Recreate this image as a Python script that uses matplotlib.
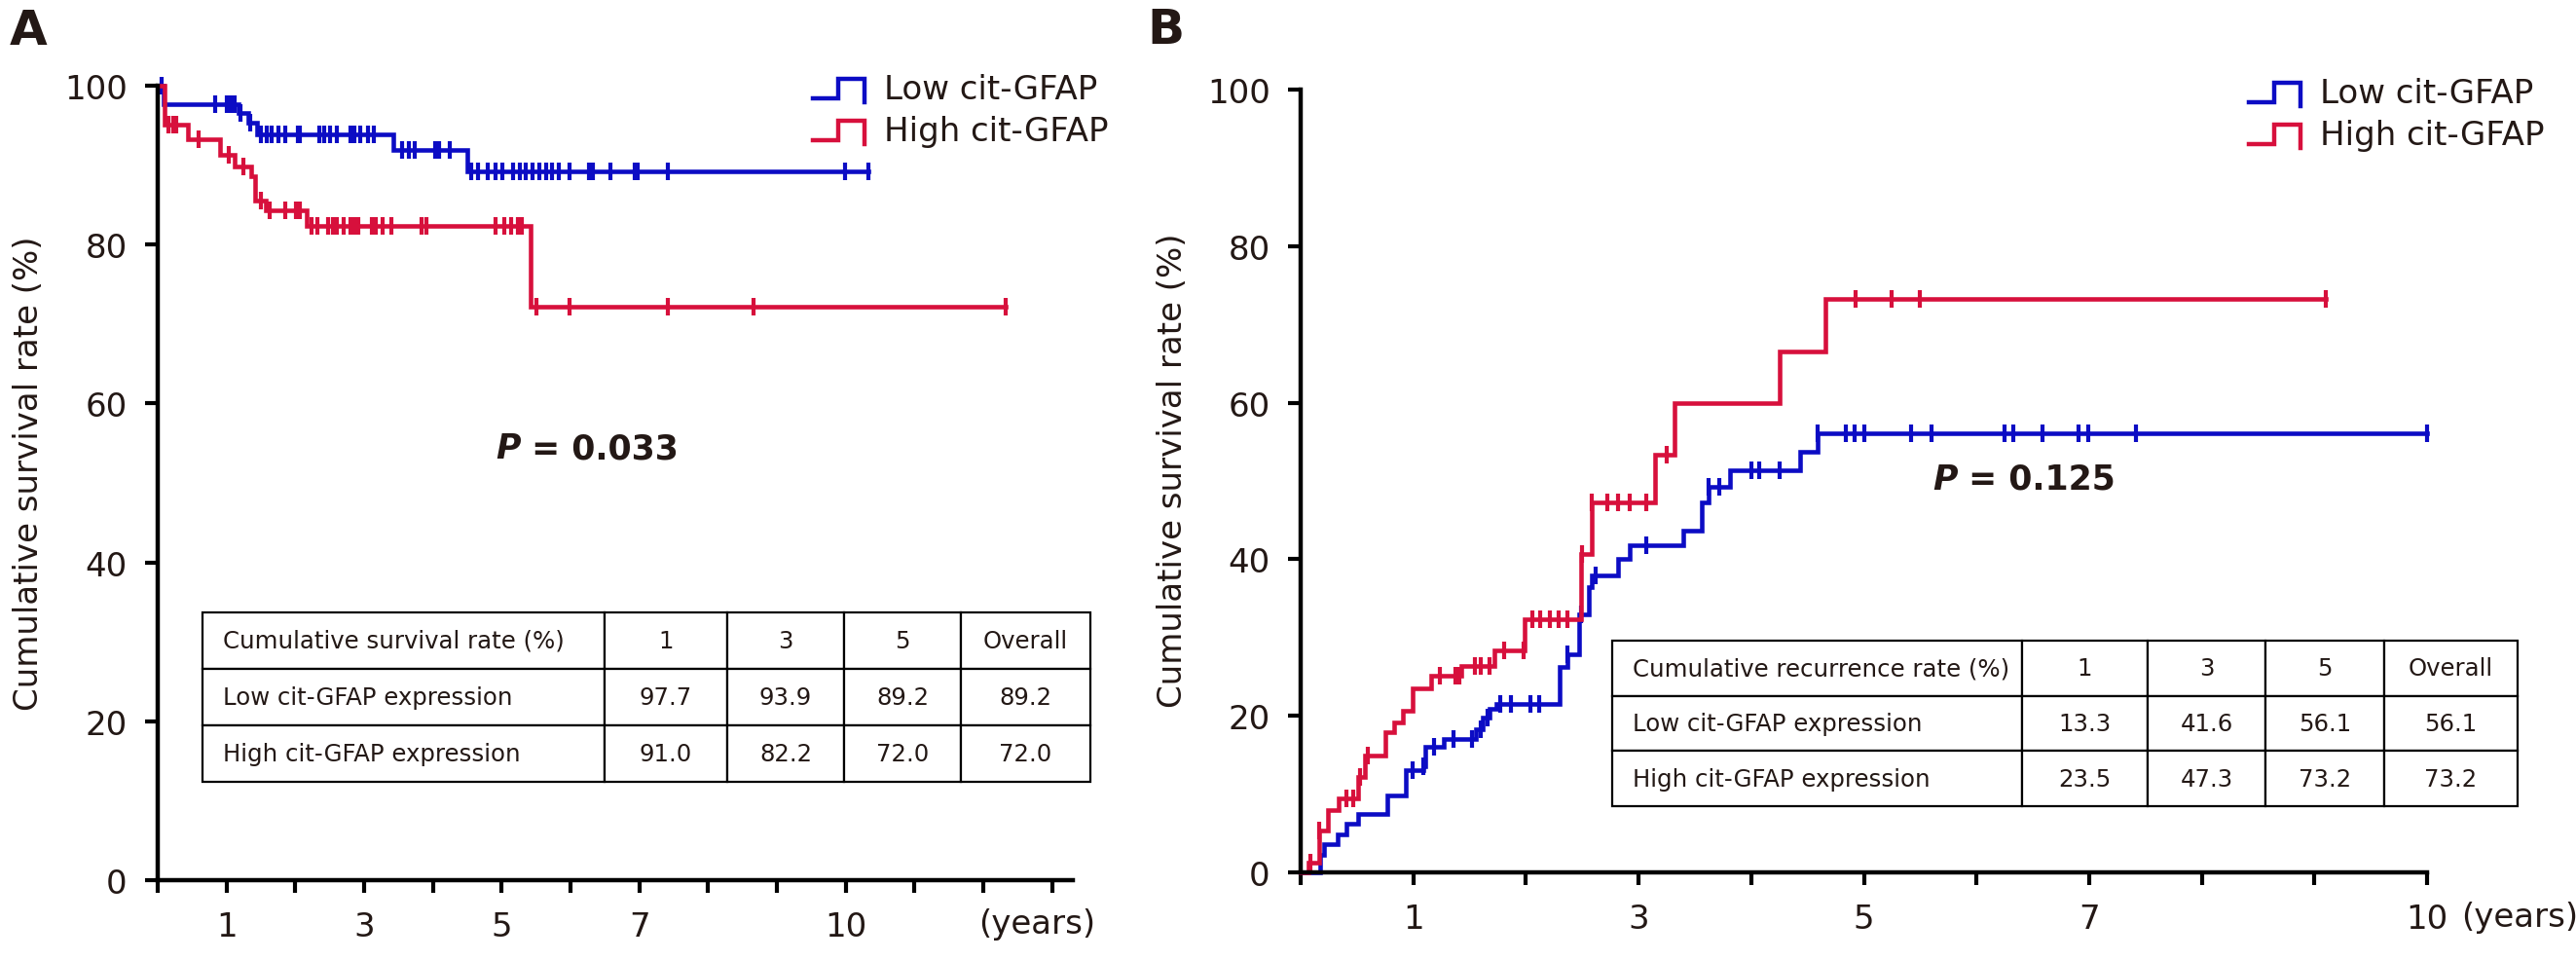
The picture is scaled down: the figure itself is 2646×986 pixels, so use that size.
import numpy as np
import matplotlib
matplotlib.use("Agg")
import matplotlib.pyplot as plt
from matplotlib.lines import Line2D
from matplotlib.legend_handler import HandlerBase

plt.rcParams['font.family'] = ['DejaVu Sans']

# ---- data ----
# panel A: overall survival (step times in years, survival %)
a_low_t = [0, 0.08, 1.17, 1.31, 1.44, 3.43, 4.50, 10.33]
a_low_s = [100, 97.7, 96.6, 95.3, 93.9, 91.9, 89.2, 89.2]
a_low_cens = [0.05, 0.84, 1.0, 1.06, 1.12, 1.2, 1.35, 1.50, 1.58, 1.66, 1.76, 1.85,
              2.04, 2.07, 2.35, 2.42, 2.51, 2.61, 2.80, 2.86, 2.95, 3.05, 3.14,
              3.55, 3.65, 3.74, 4.03, 4.09, 4.25, 4.56, 4.66, 4.79, 4.91, 5.01,
              5.16, 5.26, 5.35, 5.45, 5.54, 5.64, 5.73, 5.83, 5.98, 6.27, 6.33,
              6.58, 6.93, 6.98, 7.41, 9.99, 10.33]

a_high_t = [0, 0.10, 0.44, 0.90, 1.12, 1.36, 1.41, 1.57, 2.17, 5.42, 12.32]
a_high_s = [100, 95.1, 93.3, 91.3, 89.8, 88.6, 85.6, 84.3, 82.3, 72.2, 72.2]
a_high_cens = [0.15, 0.23, 0.27, 0.59, 1.03, 1.25, 1.50, 1.63, 1.85, 2.01, 2.07,
               2.23, 2.32, 2.48, 2.54, 2.61, 2.70, 2.80, 2.86, 2.92, 3.11, 3.17,
               3.27, 3.40, 3.84, 3.90, 4.91, 5.04, 5.13, 5.23, 5.29, 5.51, 5.98,
               7.41, 8.66, 12.32]

# panel B: cumulative recurrence
b_low_t = [0, 0.17, 0.21, 0.33, 0.41, 0.51, 0.77, 0.93, 1.09, 1.11, 1.27, 1.56,
           1.62, 1.68, 1.74, 2.30, 2.37, 2.47, 2.56, 2.58, 2.82, 2.92, 3.40, 3.56,
           3.62, 3.81, 4.43, 4.59, 10.0]
b_low_s = [0, 2.3, 3.6, 4.9, 6.2, 7.5, 9.8, 13.0, 13.6, 16.0, 17.0, 18.3, 19.8,
           20.9, 21.5, 26.2, 27.9, 33.0, 36.4, 37.9, 40.0, 41.8, 43.7, 47.3, 49.2,
           51.4, 53.7, 56.1, 56.1]
b_low_cens = [0.99, 1.09, 1.18, 1.36, 1.52, 1.60, 1.66, 1.77, 1.87, 2.04, 2.12,
              2.37, 2.49, 2.62, 3.07, 3.62, 3.72, 4.00, 4.07, 4.25, 4.59, 4.84,
              4.92, 5.00, 5.42, 5.60, 6.25, 6.33, 6.59, 6.91, 6.99, 7.42, 10.0]

b_high_t = [0, 0.07, 0.16, 0.24, 0.34, 0.51, 0.57, 0.75, 0.83, 0.91, 0.99, 1.16,
            1.43, 1.72, 1.99, 2.49, 2.58, 3.15, 3.32, 4.25, 4.66, 9.10]
b_high_s = [0, 1.3, 5.3, 7.9, 9.4, 12.2, 14.9, 17.9, 19.2, 20.7, 23.5, 25.1, 26.4,
            28.4, 32.4, 40.7, 47.3, 53.4, 60.0, 66.5, 73.2, 73.2]
b_high_cens = [0.09, 0.16, 0.41, 0.47, 0.53, 0.60, 1.24, 1.37, 1.41, 1.55, 1.60,
               1.68, 1.81, 1.98, 2.06, 2.13, 2.21, 2.29, 2.37, 2.50, 2.58, 2.72,
               2.82, 2.92, 3.07, 3.25, 4.93, 5.25, 5.50, 9.10]

group_labels = ["Low cit-GFAP", "High cit-GFAP"]
row_labels = ["Low cit-GFAP expression", "High cit-GFAP expression"]
col_labels = ["1", "3", "5", "Overall"]
a_table_low = ["97.7", "93.9", "89.2", "89.2"]
a_table_high = ["91.0", "82.2", "72.0", "72.0"]
b_table_low = ["13.3", "41.6", "56.1", "56.1"]
b_table_high = ["23.5", "47.3", "73.2", "73.2"]

xtick_labels = {1: "1", 3: "3", 5: "5", 7: "7", 10: "10"}

BLUE = "#0c0cc4"
RED = "#d7103c"
INK = "#231815"
FS = 24.5

W, H = 2646, 987
fig = plt.figure(figsize=(W / 100, H / 100), dpi=100)


def fx(px):
    return px / W


def fy(py):
    return 1 - py / H


def rect(x0, y0, x1, y1):
    # pixel box (top-left origin) -> figure fraction rect
    return [fx(x0), fy(y1), fx(x1) - fx(x0), fy(y0) - fy(y1)]


class StepHandler(HandlerBase):
    def create_artists(self, legend, orig_handle, xdescent, ydescent,
                       width, height, fontsize, trans):
        xs = np.array([0, 0.5, 0.5, 1.0, 1.0]) * width - xdescent
        ys = np.array([0.0, 0.0, 0.85, 0.85, -0.15]) * height - ydescent
        ln = Line2D(xs, ys, color=orig_handle.get_color(), lw=3.2,
                    solid_joinstyle='miter', transform=trans)
        return [ln]


def step_value(t, s, c):
    idx = np.searchsorted(np.array(t), np.array(c), side='right') - 1
    return np.array(s)[np.clip(idx, 0, len(s) - 1)]


def draw_curve(ax, t, s, cens, color):
    ln, = ax.step(t, s, where='post', color=color, lw=3.3, clip_on=False,
                  solid_joinstyle='miter')
    ax.plot(cens, step_value(t, s, cens), ls='none', marker='|', ms=13,
            mew=3.0, color=color, clip_on=False)
    return ln


def style_axis(ax, xmax, xticks):
    ax.set_xlim(0, xmax)
    ax.set_ylim(0, 100)
    for side in ['top', 'right']:
        ax.spines[side].set_visible(False)
    for side in ['left', 'bottom']:
        ax.spines[side].set_linewidth(3.2)
        ax.spines[side].set_color('black')
    ax.set_xticks(xticks)
    ax.set_xticklabels([xtick_labels.get(k, "") for k in xticks])
    ax.set_yticks(range(0, 101, 20))
    ax.tick_params(axis='both', direction='out', length=9.5, width=3.0,
                   labelsize=FS, colors='black', labelcolor=INK)
    ax.tick_params(axis='x', pad=13)
    ax.tick_params(axis='y', pad=13)
    ax.set_ylabel("Cumulative survival rate (%)", fontsize=FS, color=INK)


def draw_table(box, widths, header, rows):
    tax = fig.add_axes(rect(*box))
    tax.axis('off')
    cells = [header] + rows
    tot = float(sum(widths))
    tb = tax.table(cellText=cells, colWidths=[w / tot for w in widths],
                   cellLoc='center', bbox=[0, 0, 1, 1])
    tb.auto_set_font_size(False)
    tb.set_fontsize(17.6)
    for (r, c), cell in tb.get_celld().items():
        cell.set_linewidth(1.6)
        cell.set_edgecolor('black')
        cell.get_text().set_color(INK)
        if c == 0:
            cell.get_text().set_horizontalalignment('left')
            cell.PAD = 0.05
    return tb


def p_value(x, y, value):
    p = fig.text(fx(x), fy(y), "P", fontsize=25, fontweight='bold',
                 fontstyle='italic', color=INK, ha='left', va='center')
    ann = plt.annotate(" = " + value, xy=(1, 0), xycoords=p, va='bottom',
                       ha='left', fontsize=25, fontweight='bold', color=INK,
                       annotation_clip=False)
    return ann


def add_legend(ax, handles, x, y):
    ax.legend(handles, group_labels, handler_map={Line2D: StepHandler()},
              loc='upper left', bbox_to_anchor=(fx(x), fy(y)),
              bbox_transform=fig.transFigure, frameon=False, fontsize=FS,
              handlelength=1.55, handletextpad=0.6, labelspacing=0.3,
              borderpad=0, borderaxespad=0, labelcolor=INK)


# ---- panel A ----
ax_a = fig.add_axes(rect(162, 89, 1102, 905))
style_axis(ax_a, 13.3, list(range(0, 14)))
ax_a.yaxis.set_label_coords((46 - 162) / 940.0, 0.513)
la = draw_curve(ax_a, a_low_t, a_low_s, a_low_cens, BLUE)
ha = draw_curve(ax_a, a_high_t, a_high_s, a_high_cens, RED)
add_legend(ax_a, [la, ha], 835, 76)

# ---- panel B ----
ax_b = fig.add_axes(rect(1336, 93, 2493, 897))
style_axis(ax_b, 10, list(range(0, 11)))
ax_b.yaxis.set_label_coords((1221 - 1336) / 1157.0, 0.514)
lb = draw_curve(ax_b, b_low_t, b_low_s, b_low_cens, BLUE)
hb = draw_curve(ax_b, b_high_t, b_high_s, b_high_cens, RED)
add_legend(ax_b, [lb, hb], 2310, 80)

# tables
draw_table((208, 630, 1120, 804), [413, 126, 120, 120, 133],
           ["Cumulative survival rate (%)"] + col_labels,
           [[row_labels[0]] + a_table_low, [row_labels[1]] + a_table_high])
draw_table((1656, 659, 2586, 829), [421, 129, 121, 122, 137],
           ["Cumulative recurrence rate (%)"] + col_labels,
           [[row_labels[0]] + b_table_low, [row_labels[1]] + b_table_high])

# p values
p_value(509, 461, "0.033")
p_value(1985, 493, "0.125")

# axis unit labels and panel letters
fig.text(fx(1005), fy(950), "(years)", fontsize=FS, color=INK, ha='left', va='center')
fig.text(fx(2528), fy(943), "(years)", fontsize=FS, color=INK, ha='left', va='center')
fig.text(fx(29), fy(32), "A", fontsize=36, fontweight='bold', color=INK,
         ha='center', va='center')
fig.text(fx(1197), fy(31), "B", fontsize=36, fontweight='bold', color=INK,
         ha='center', va='center')

fig.savefig("out.png", dpi=100)
